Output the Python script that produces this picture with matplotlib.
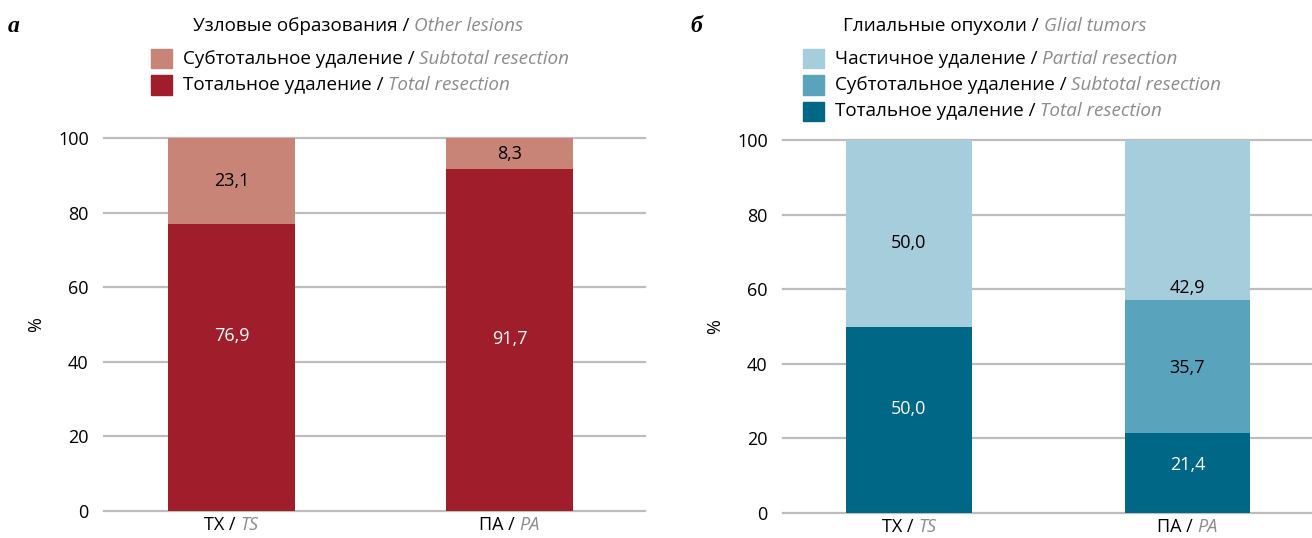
import matplotlib
matplotlib.use("Agg")
import matplotlib.pyplot as plt
import numpy as np
from matplotlib.offsetbox import TextArea, HPacker, VPacker, DrawingArea, AnnotationBbox
from matplotlib.patches import Rectangle

plt.rcParams['font.family'] = ['Open Sans', 'DejaVu Sans']

# data
groups_ru = ['ТХ', 'ПА']
groups_en = ['TS', 'PA']

# panel a: other lesions (bottom -> top)
a_total = [76.9, 91.7]
a_subtotal = [23.1, 8.3]
a_names_ru = ['Тотальное удаление', 'Субтотальное удаление']
a_names_en = ['Total resection', 'Subtotal resection']

# panel b: glial tumors (bottom -> top)
b_total = [50.0, 21.4]
b_subtotal = [0.0, 35.7]
b_partial = [50.0, 42.9]
b_names_ru = ['Тотальное удаление', 'Субтотальное удаление', 'Частичное удаление']
b_names_en = ['Total resection', 'Subtotal resection', 'Partial resection']

# where the value labels sit (the source does not center them exactly)
a_lab_y = [[47, 46], [88.5, 95.8]]
b_lab_y = [[28, 13], [None, 39], [72.5, 60.3]]

a_colors = ['#A01D2B', '#C88577']
b_colors = ['#006786', '#59A3BC', '#A6CDDB']
a_txt = ['white', 'black']
b_txt = ['white', 'black', 'black']
gray = '#8C8C8C'
FS = 13
FS_LEG = 13.6

fig = plt.figure(figsize=(13.12, 5.38), dpi=100)
W, H = 1312, 538


def mixed(ru, en, size=FS):
    return HPacker(children=[TextArea(ru + ' / ', textprops=dict(fontsize=size, color='black')),
                             TextArea(en, textprops=dict(fontsize=size, color=gray, style='italic'))],
                   align='baseline', pad=0, sep=0)


def panel(rect, series, colors, txtc, lab_y, names_ru, names_en, width, xlim, title, title_xy, leg_xy, letter, letter_x):
    ax = fig.add_axes(rect)
    x = np.arange(len(groups_ru))
    bottom = np.zeros(len(x))
    for k, vals in enumerate(series):
        vals = np.array(vals)
        ax.bar(x, vals, width, bottom=bottom, color=colors[k], zorder=3)
        for i, v in enumerate(vals):
            if v > 0:
                ax.text(x[i], lab_y[k][i], f'{v:.1f}'.replace('.', ','), ha='center', va='center',
                        fontsize=FS, color=txtc[k], zorder=4)
        bottom += vals
    ax.set_xlim(xlim)
    ax.set_ylim(0, 100)
    ax.set_yticks(np.arange(0, 101, 20))
    ax.yaxis.grid(True, color='#BDBDBD', lw=1.6, zorder=0)
    for ln in ax.get_ygridlines():
        ln.set_clip_on(False)
    ax.tick_params(axis='y', length=0, labelsize=FS, pad=11)
    ax.set_xticks(x)
    ax.set_xticklabels([])
    ax.tick_params(axis='x', length=0)
    for s in ax.spines.values():
        s.set_visible(False)
    ax.set_ylabel('%', fontsize=FS, labelpad=9)
    for i in x:
        ab = AnnotationBbox(mixed(groups_ru[i], groups_en[i]), (i, 0), xycoords=('data', 'axes fraction'),
                            xybox=(0, -3.5), boxcoords='offset points', box_alignment=(0.5, 1), frameon=False)
        ax.add_artist(ab)

    ab = AnnotationBbox(mixed(*title, size=FS_LEG), (title_xy[0] / W, 1 - title_xy[1] / H),
                        xycoords='figure fraction', box_alignment=(0, 0.5), frameon=False)
    fig.add_artist(ab)

    rows = []
    for k in range(len(series) - 1, -1, -1):
        da = DrawingArea(15, 14, 0, 0)
        da.add_artist(Rectangle((0, 0), 15, 14, color=colors[k]))
        rows.append(HPacker(children=[da, mixed(names_ru[k], names_en[k], size=FS_LEG)],
                            align='center', pad=0, sep=8))
    leg = VPacker(children=rows, align='left', pad=0, sep=5)
    ab = AnnotationBbox(leg, (leg_xy[0] / W, 1 - leg_xy[1] / H), xycoords='figure fraction',
                        box_alignment=(0, 1), frameon=False)
    fig.add_artist(ab)

    fig.text(letter_x / W, 1 - 26 / H, letter, fontsize=17, fontweight='bold', style='italic',
             family='Liberation Serif', va='center')
    return ax


panel([104 / W, 27 / H, 541 / W, 373 / H], [a_total, a_subtotal], a_colors, a_txt, a_lab_y,
      a_names_ru, a_names_en, 0.457, (-0.4586, 1.487),
      ('Узловые образования', 'Other lesions'), (193, 26), (151, 49), 'а', 8)
panel([783 / W, 25 / H, 529 / W, 373 / H], [b_total, b_subtotal, b_partial], b_colors, b_txt, b_lab_y,
      b_names_ru, b_names_en, 0.45, (-0.452, 1.447),
      ('Глиальные опухоли', 'Glial tumors'), (843, 26), (803, 49), 'б', 690)

fig.savefig('out.png', dpi=100)
